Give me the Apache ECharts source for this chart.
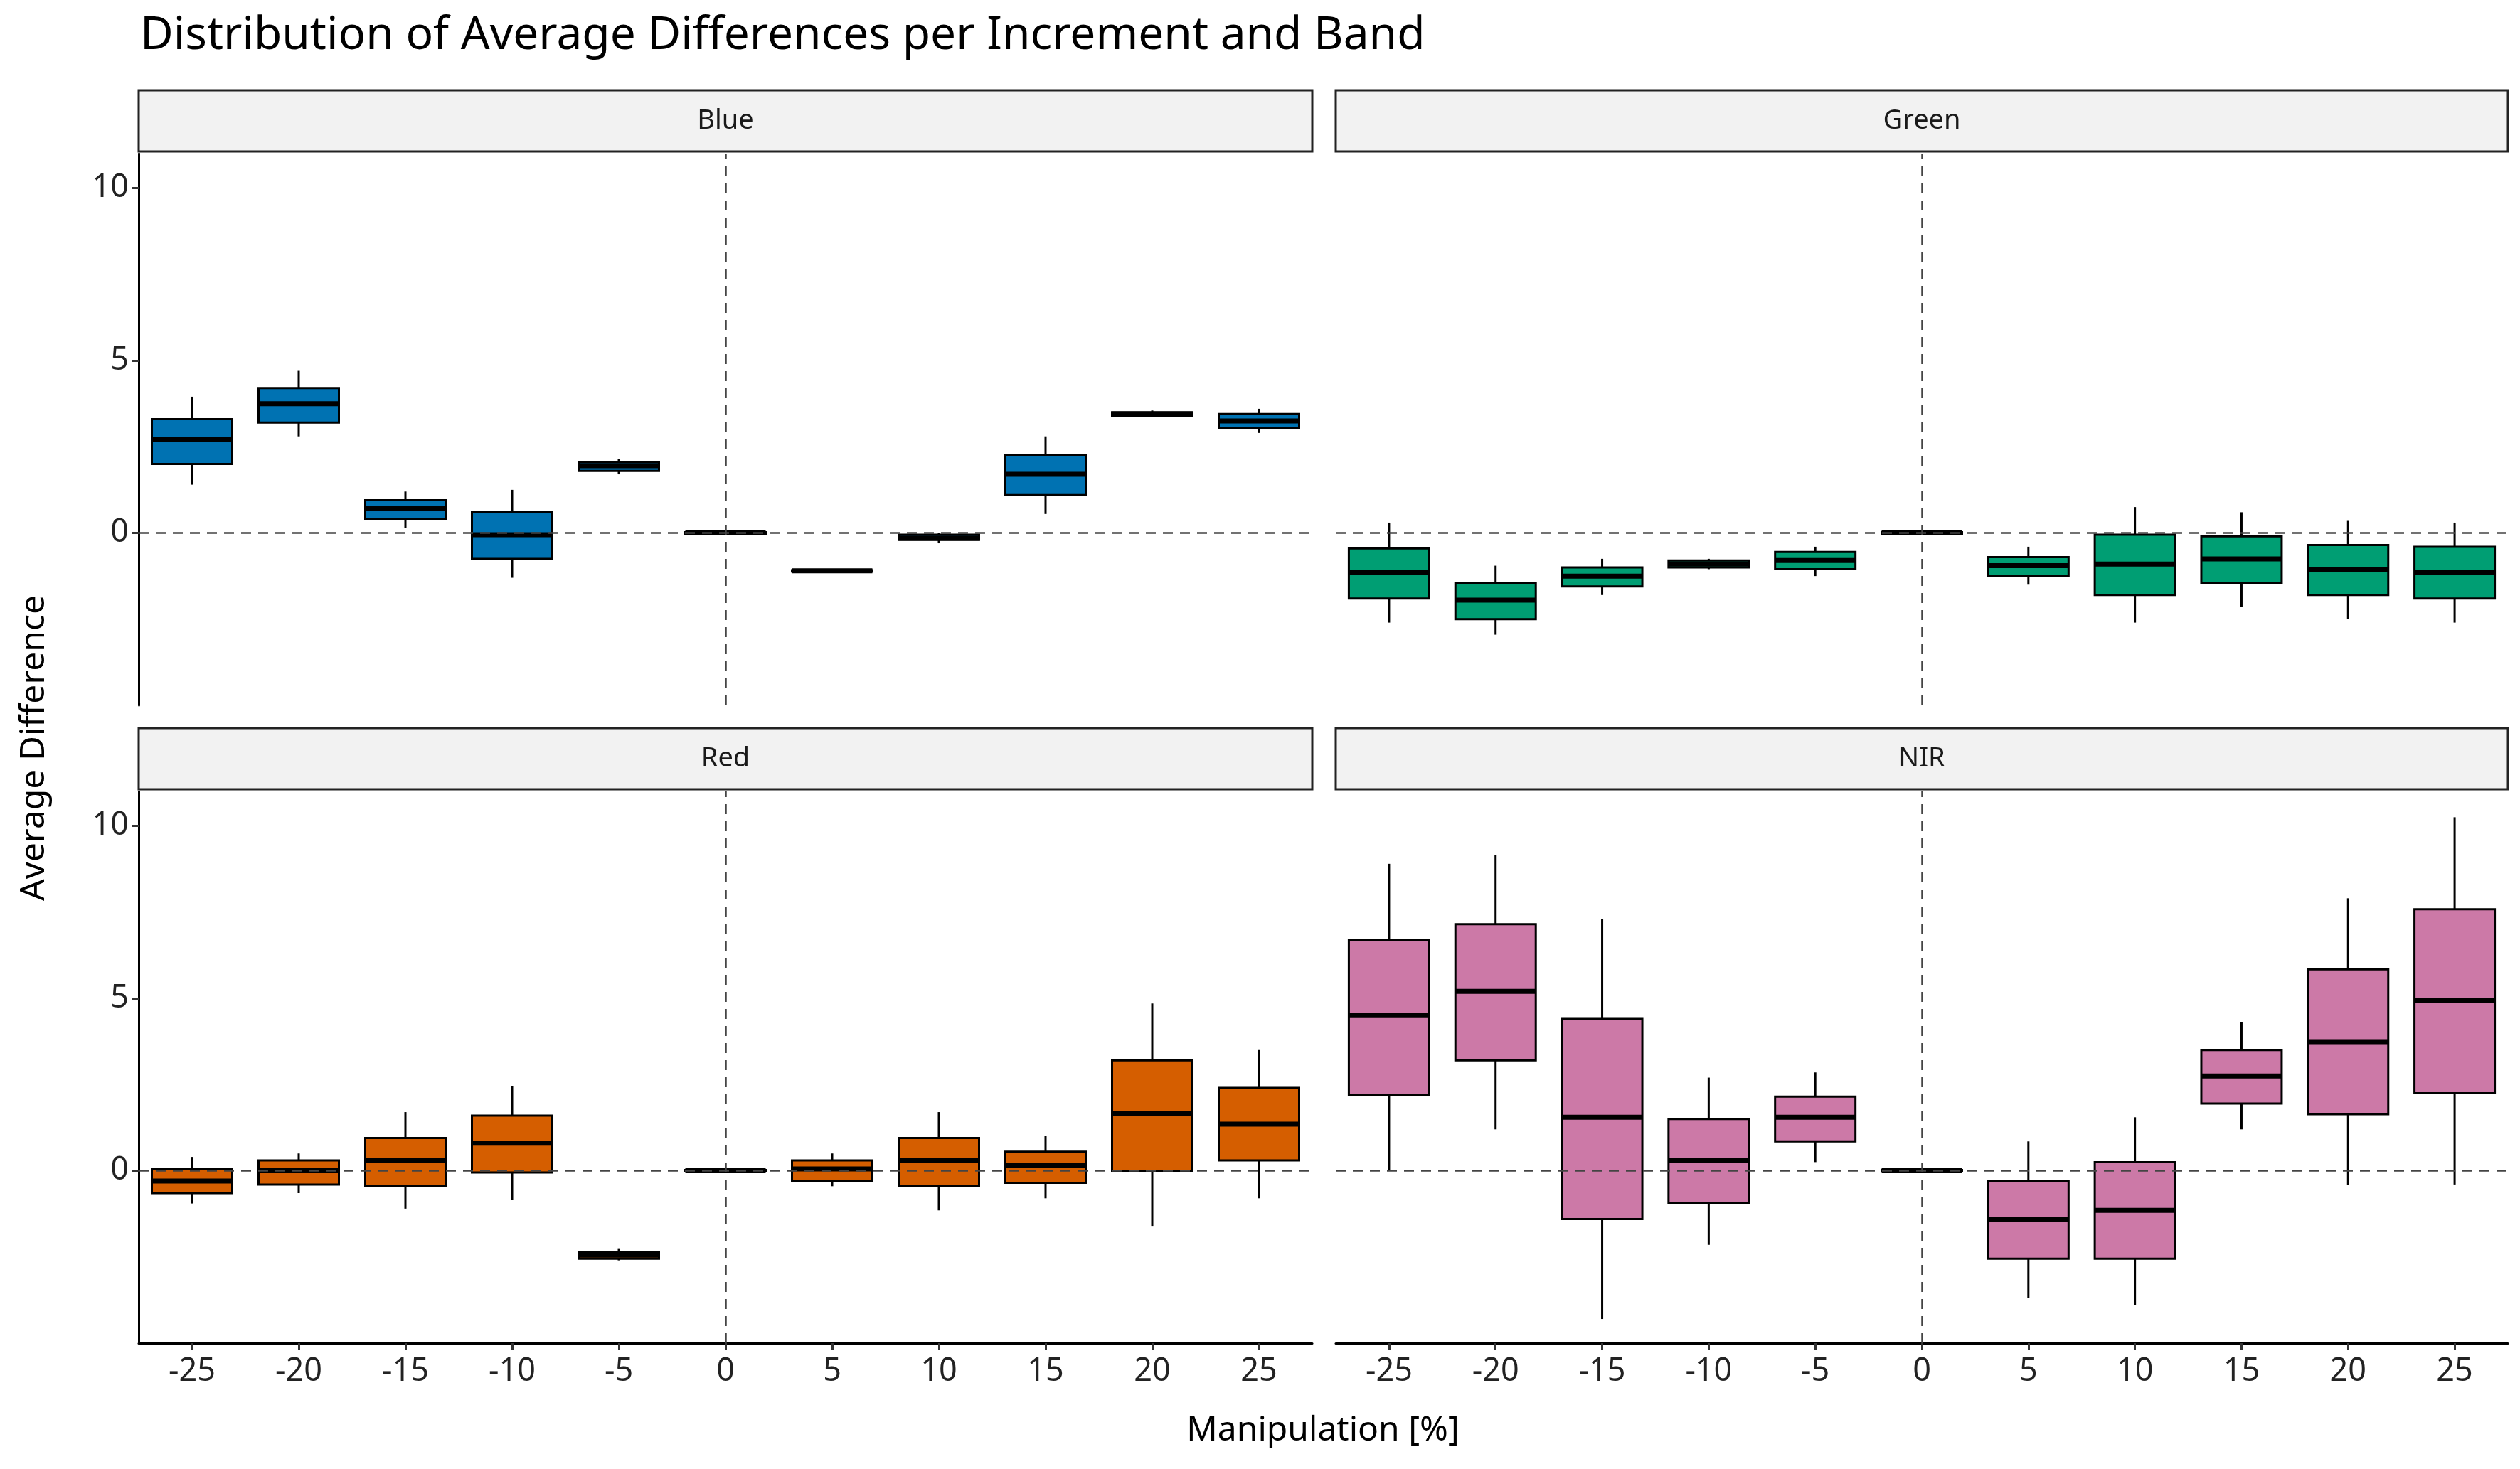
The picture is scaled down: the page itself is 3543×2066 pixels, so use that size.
<!DOCTYPE html>
<html>
<head>
<meta charset="utf-8">
<script src="https://cdn.jsdelivr.net/npm/echarts@6/dist/echarts.min.js"></script>
<style>html,body{margin:0;padding:0;background:#fff}#main{width:3543px;height:2066px}</style>
</head>
<body>
<div id="main"></div>
<script>
var categories = ['-25', '-20', '-15', '-10', '-5', '0', '5', '10', '15', '20', '25'];
var bands = ['Blue', 'Green', 'Red', 'NIR'];
var bandColors = ['#0072B2', '#009E73', '#D55E00', '#CC79A7'];
var yTicks = [0, 5, 10];

// [min, Q1, median, Q3, max]
var blueBoxes = [
    [1.4, 2.0, 2.7, 3.3, 3.95],
    [2.8, 3.2, 3.75, 4.2, 4.7],
    [0.15, 0.4, 0.7, 0.95, 1.2],
    [-1.3, -0.75, -0.05, 0.6, 1.25],
    [1.7, 1.8, 1.95, 2.05, 2.15],
    [-0.05, -0.02, 0, 0.02, 0.05],
    [-1.15, -1.12, -1.1, -1.08, -1.05],
    [-0.3, -0.2, -0.15, -0.05, 0.0],
    [0.55, 1.1, 1.7, 2.25, 2.8],
    [3.35, 3.4, 3.45, 3.5, 3.55],
    [2.9, 3.05, 3.25, 3.45, 3.6]
];
var greenBoxes = [
    [-2.6, -1.9, -1.15, -0.45, 0.3],
    [-2.95, -2.5, -1.95, -1.45, -0.95],
    [-1.8, -1.55, -1.25, -1.0, -0.75],
    [-1.05, -1.0, -0.9, -0.8, -0.75],
    [-1.25, -1.05, -0.8, -0.55, -0.4],
    [-0.05, -0.02, 0, 0.02, 0.05],
    [-1.5, -1.25, -0.95, -0.7, -0.4],
    [-2.6, -1.8, -0.9, -0.05, 0.75],
    [-2.15, -1.45, -0.75, -0.1, 0.6],
    [-2.5, -1.8, -1.05, -0.35, 0.35],
    [-2.6, -1.9, -1.15, -0.4, 0.3]
];
var redBoxes = [
    [-0.95, -0.65, -0.3, 0.05, 0.4],
    [-0.65, -0.4, 0, 0.3, 0.5],
    [-1.1, -0.45, 0.3, 0.95, 1.7],
    [-0.85, -0.05, 0.8, 1.6, 2.45],
    [-2.6, -2.55, -2.45, -2.35, -2.25],
    [-0.05, -0.02, 0, 0.02, 0.05],
    [-0.45, -0.3, 0.05, 0.3, 0.5],
    [-1.15, -0.45, 0.3, 0.95, 1.7],
    [-0.8, -0.35, 0.15, 0.55, 1.0],
    [-1.6, 0, 1.65, 3.2, 4.85],
    [-0.8, 0.3, 1.35, 2.4, 3.5]
];
var nirBoxes = [
    [0, 2.2, 4.5, 6.7, 8.9],
    [1.2, 3.2, 5.2, 7.15, 9.15],
    [-4.3, -1.4, 1.55, 4.4, 7.3],
    [-2.15, -0.95, 0.3, 1.5, 2.7],
    [0.25, 0.85, 1.55, 2.15, 2.85],
    [-0.05, -0.02, 0, 0.02, 0.05],
    [-3.7, -2.55, -1.4, -0.3, 0.85],
    [-3.9, -2.55, -1.15, 0.25, 1.55],
    [1.2, 1.95, 2.75, 3.5, 4.3],
    [-0.42, 1.64, 3.74, 5.84, 7.9],
    [-0.4, 2.25, 4.94, 7.58, 10.25]
];
var allBoxes = [blueBoxes, greenBoxes, redBoxes, nirBoxes];

var panels = [
    { left: 195, top: 216, width: 1650, height: 776 },
    { left: 1878, top: 216, width: 1648, height: 776 },
    { left: 195, top: 1113, width: 1650, height: 776 },
    { left: 1878, top: 1113, width: 1648, height: 776 }
];
var boxW = 113;
var font = 'Noto Sans';

// ggplot-style box: whiskers without caps, thick median
function makeRender(color) {
    return function (params, api) {
        var x = api.value(0);
        var lo = api.coord([x, api.value(1)]);
        var q1 = api.coord([x, api.value(2)]);
        var md = api.coord([x, api.value(3)]);
        var q3 = api.coord([x, api.value(4)]);
        var hi = api.coord([x, api.value(5)]);
        var cx = lo[0], h = boxW / 2;
        return { type: 'group', children: [
            { type: 'line', shape: { x1: cx, y1: hi[1], x2: cx, y2: q3[1] }, style: { stroke: '#000', lineWidth: 3 } },
            { type: 'line', shape: { x1: cx, y1: q1[1], x2: cx, y2: lo[1] }, style: { stroke: '#000', lineWidth: 3 } },
            { type: 'rect', shape: { x: cx - h, y: q3[1], width: boxW, height: Math.max(q1[1] - q3[1], 1) },
                style: { fill: color, stroke: '#000', lineWidth: 3 } },
            { type: 'line', shape: { x1: cx - h, y1: md[1], x2: cx + h, y2: md[1] }, style: { stroke: '#000', lineWidth: 7 } }
        ] };
    };
}

var grids = [], xAxes = [], yAxes = [], series = [], graphics = [];
panels.forEach(function (p, i) {
    var isLeft = i % 2 === 0, isBottom = i >= 2;
    grids.push({ left: p.left, top: p.top, width: p.width, height: p.height });
    xAxes.push({
        type: 'category', gridIndex: i, data: categories, boundaryGap: true,
        axisLine: { show: isBottom, onZero: false, lineStyle: { color: '#000', width: 3 } },
        axisTick: { show: isBottom, alignWithLabel: true, length: 10, lineStyle: { color: '#333', width: 3 } },
        axisLabel: { show: isBottom, color: '#222', fontSize: 45, fontFamily: font, margin: 18 },
        splitLine: { show: false }
    });
    yAxes.push({
        type: 'value', gridIndex: i, min: -5, max: 11, interval: 5,
        axisLine: { show: isLeft, lineStyle: { color: '#000', width: 3 } },
        axisTick: { show: isLeft, length: 10, customValues: yTicks, lineStyle: { color: '#333', width: 3 } },
        axisLabel: { show: isLeft, customValues: yTicks, color: '#222', fontSize: 45, fontFamily: font, margin: 14 },
        splitLine: { show: false }
    });
    var boxes = allBoxes[i];
    series.push({
        type: 'custom', xAxisIndex: i, yAxisIndex: i,
        data: boxes.map(function (b, k) { return [k].concat(b); }),
        encode: { x: 0, y: [1, 2, 3, 4, 5] },
        renderItem: makeRender(bandColors[i]),
        markLine: {
            silent: true, symbol: 'none', label: { show: false },
            lineStyle: { color: '#444', type: [14, 10], width: 2.5 },
            data: [{ yAxis: 0 }, { xAxis: '0' }]
        },
        z: 2
    });
    // strip header
    graphics.push({
        type: 'rect', shape: { x: p.left, y: p.top - 89, width: p.width, height: 86 },
        style: { fill: '#f2f2f2', stroke: '#222', lineWidth: 3 }
    });
    graphics.push({
        type: 'text', x: p.left + p.width / 2, y: p.top - 46,
        style: { text: bands[i], fontSize: 38, fontFamily: font, fill: '#1a1a1a', align: 'center', verticalAlign: 'middle' }
    });
});
graphics.push({
    type: 'text', x: 48, y: 1052, rotation: Math.PI / 2,
    style: { text: 'Average Difference', fontSize: 48, fontFamily: font, fill: '#000', align: 'center', verticalAlign: 'middle' }
});
graphics.push({
    type: 'text', x: 1860, y: 2012,
    style: { text: 'Manipulation [%]', fontSize: 48, fontFamily: font, fill: '#000', align: 'center', verticalAlign: 'middle' }
});

var chart = echarts.init(document.getElementById('main'));
chart.setOption({
    backgroundColor: '#fff',
    animation: false,
    title: { text: 'Distribution of Average Differences per Increment and Band', left: 192, top: 14,
        textStyle: { fontSize: 64, fontWeight: 'normal', fontFamily: font, color: '#000' } },
    grid: grids, xAxis: xAxes, yAxis: yAxes, series: series, graphic: graphics
});
</script>
</body>
</html>
